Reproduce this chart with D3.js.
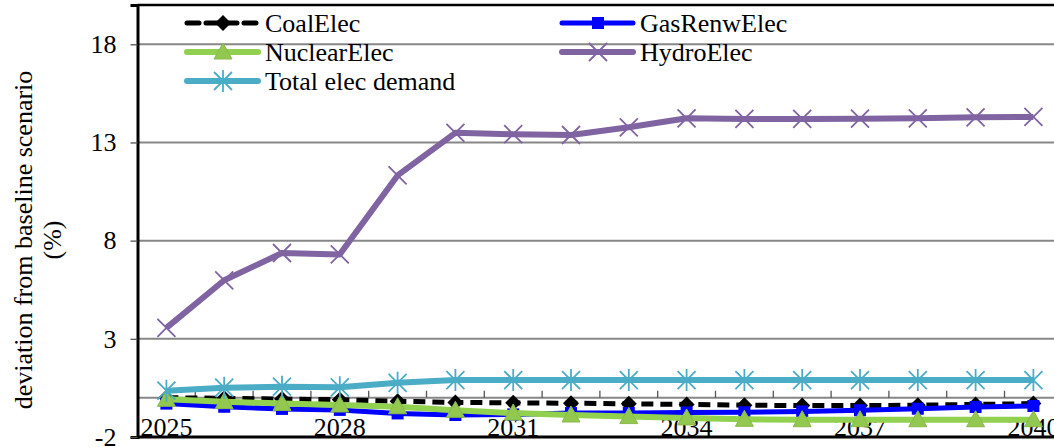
<!DOCTYPE html>
<html>
<head>
<meta charset="utf-8">
<script src="https://cdn.jsdelivr.net/npm/d3@7"></script>
<style>
  body { margin: 0; background: #fff; }
</style>
</head>
<body>
<script>
// data
const years = [2025, 2026, 2027, 2028, 2029, 2030, 2031, 2032, 2033, 2034, 2035, 2036, 2037, 2038, 2039, 2040];
const coalElec = [0.0, -0.03, -0.07, -0.1, -0.18, -0.24, -0.26, -0.28, -0.31, -0.34, -0.38, -0.4, -0.4, -0.38, -0.34, -0.3];
const gasRenwElec = [-0.3, -0.46, -0.57, -0.62, -0.8, -0.88, -0.85, -0.78, -0.78, -0.75, -0.74, -0.7, -0.64, -0.56, -0.47, -0.42];
const nuclearElec = [-0.08, -0.2, -0.29, -0.37, -0.46, -0.64, -0.78, -0.88, -0.96, -1.03, -1.1, -1.12, -1.12, -1.12, -1.12, -1.12];
const hydroElec = [3.56, 5.98, 7.37, 7.3, 11.32, 13.49, 13.42, 13.38, 13.77, 14.23, 14.2, 14.2, 14.21, 14.23, 14.28, 14.3];
const totalDemand = [0.36, 0.51, 0.56, 0.53, 0.76, 0.9, 0.9, 0.9, 0.9, 0.9, 0.9, 0.9, 0.9, 0.9, 0.9, 0.9];
const yTicks = [-2, 3, 8, 13, 18];
const xLabels = [2025, 2028, 2031, 2034, 2037, 2040];

const series = [
  {name: "CoalElec", values: coalElec, color: "#000000", width: 5, dash: "12,7", marker: "diamond"},
  {name: "GasRenwElec", values: gasRenwElec, color: "#0000ff", width: 5, dash: null, marker: "square"},
  {name: "NuclearElec", values: nuclearElec, color: "#92d050", width: 6, dash: null, marker: "triangle"},
  {name: "HydroElec", values: hydroElec, color: "#8064a2", width: 6, dash: null, marker: "cross"},
  {name: "Total elec demand", values: totalDemand, color: "#4bacc6", width: 6, dash: null, marker: "star"}
];

const FONT = "Liberation Serif";
const W = 1054, H = 447;
const svg = d3.select("body").append("svg").attr("width", W).attr("height", H)
  .attr("font-family", FONT);

//plot area runs past the right edge of the picture
const plotLeft = 137.5, plotTop = 5, plotBottom = 437;
const step = 57.8;
const x = d3.scaleBand().domain(years).range([plotLeft, plotLeft + step * years.length]);
const y = d3.scaleLinear().domain([-2, 20]).range([plotBottom, plotTop]);
const cx = function(d){ return x(d) + x.bandwidth() / 2; };

//grey gridlines
svg.append("g").selectAll("line")
  .data(yTicks.filter(function(t){ return t > -2; }))
  .enter().append("line")
  .attr("x1", plotLeft).attr("x2", W)
  .attr("y1", function(d){ return y(d); }).attr("y2", function(d){ return y(d); })
  .attr("stroke", "#878787").attr("stroke-width", 2);

//category axis sits on zero, ticks between categories pointing up
svg.append("line")
  .attr("x1", plotLeft).attr("x2", W).attr("y1", y(0)).attr("y2", y(0))
  .attr("stroke", "#878787").attr("stroke-width", 2);
svg.append("g").selectAll("line")
  .data(years.slice(1))
  .enter().append("line")
  .attr("x1", function(d){ return x(d); }).attr("x2", function(d){ return x(d); })
  .attr("y1", y(0)).attr("y2", y(0) - 7)
  .attr("stroke", "#555").attr("stroke-width", 1.3);

//plot border
svg.append("line").attr("x1", plotLeft).attr("x2", W).attr("y1", plotTop).attr("y2", plotTop)
  .attr("stroke", "#000").attr("stroke-width", 2.5);
svg.append("line").attr("x1", plotLeft).attr("x2", W).attr("y1", plotBottom).attr("y2", plotBottom)
  .attr("stroke", "#000").attr("stroke-width", 3);

//y axis
const yAxis = d3.axisLeft(y).tickValues(yTicks).tickSize(7).tickPadding(14)
  .tickFormat(function(d){ return String(d); });
const yg = svg.append("g").attr("transform", "translate(" + plotLeft + ",0)").call(yAxis)
  .attr("font-family", FONT).attr("font-size", 26);
yg.select(".domain").attr("stroke", "#000").attr("stroke-width", 3);
yg.selectAll(".tick line").attr("stroke", "#555").attr("stroke-width", 1.3);
yg.selectAll(".tick text").attr("fill", "#000");

//x labels at the bottom
svg.append("g").selectAll("text")
  .data(xLabels)
  .enter().append("text")
  .attr("x", cx).attr("y", 436)
  .attr("text-anchor", "middle").attr("font-size", 26).attr("font-family", FONT)
  .text(function(d){ return d; });

//y title, two lines
const title = svg.append("text")
  .attr("transform", "translate(0,240) rotate(-90)")
  .attr("text-anchor", "middle").attr("font-size", 26).attr("font-family", FONT);
title.append("tspan").attr("x", 0).attr("y", 32).text("deviation from baseline scenario");
title.append("tspan").attr("x", 0).attr("y", 61).text("(%)");

//marker shapes
function drawMarker(g, type, color, px, py) {
  if (type === "diamond") {
    g.append("path")
      .attr("d", "M" + px + "," + (py - 8) + "L" + (px + 8) + "," + py + "L" + px + "," + (py + 8) + "L" + (px - 8) + "," + py + "Z")
      .attr("fill", color);
  } else if (type === "square") {
    g.append("rect").attr("x", px - 6).attr("y", py - 6).attr("width", 12).attr("height", 12)
      .attr("fill", color);
  } else if (type === "triangle") {
    g.append("path")
      .attr("d", "M" + px + "," + (py - 9) + "L" + (px + 9) + "," + (py + 7) + "L" + (px - 9) + "," + (py + 7) + "Z")
      .attr("fill", "#92c850").attr("stroke", "#8bb84a").attr("stroke-width", 1);
  } else if (type === "cross") {
    g.append("path")
      .attr("d", "M" + (px - 9) + "," + (py - 9) + "L" + (px + 9) + "," + (py + 9) + "M" + (px + 9) + "," + (py - 9) + "L" + (px - 9) + "," + (py + 9))
      .attr("stroke", color).attr("stroke-width", 1.8).attr("fill", "none");
  } else if (type === "star") {
    g.append("path")
      .attr("d", "M" + (px - 9) + "," + (py - 9) + "L" + (px + 9) + "," + (py + 9) + "M" + (px + 9) + "," + (py - 9) + "L" + (px - 9) + "," + (py + 9) + "M" + px + "," + (py - 11) + "L" + px + "," + (py + 11))
      .attr("stroke", color).attr("stroke-width", 1.8).attr("fill", "none");
  }
}

//lines and markers, later series on top
const line = d3.line().x(function(d){ return cx(d.year); }).y(function(d){ return y(d.v); });
series.forEach(function(s){
  const pts = years.map(function(yr, i){ return {year: yr, v: s.values[i]}; });
  const g = svg.append("g");
  g.append("path").datum(pts).attr("d", line)
    .attr("fill", "none").attr("stroke", s.color).attr("stroke-width", s.width)
    .attr("stroke-linejoin", "round")
    .attr("stroke-dasharray", s.dash);
  pts.forEach(function(p){ drawMarker(g, s.marker, s.color, cx(p.year), y(p.v)); });
});

//legend, two columns
const legendPos = [[187, 23], [562, 23], [187, 52], [562, 52], [187, 81]];
series.forEach(function(s, i){
  const lx = legendPos[i][0], ly = legendPos[i][1];
  const g = svg.append("g");
  g.append("line").attr("x1", lx).attr("x2", lx + 71).attr("y1", ly).attr("y2", ly)
    .attr("stroke", s.color).attr("stroke-width", s.width)
    .attr("stroke-linecap", "round")
    .attr("stroke-dasharray", s.dash);
  drawMarker(g, s.marker, s.color, lx + 36, ly);
  g.append("text").attr("x", lx + 78).attr("y", ly + 9)
    .attr("font-size", 26).attr("font-family", FONT).text(s.name);
});
</script>
</body>
</html>
